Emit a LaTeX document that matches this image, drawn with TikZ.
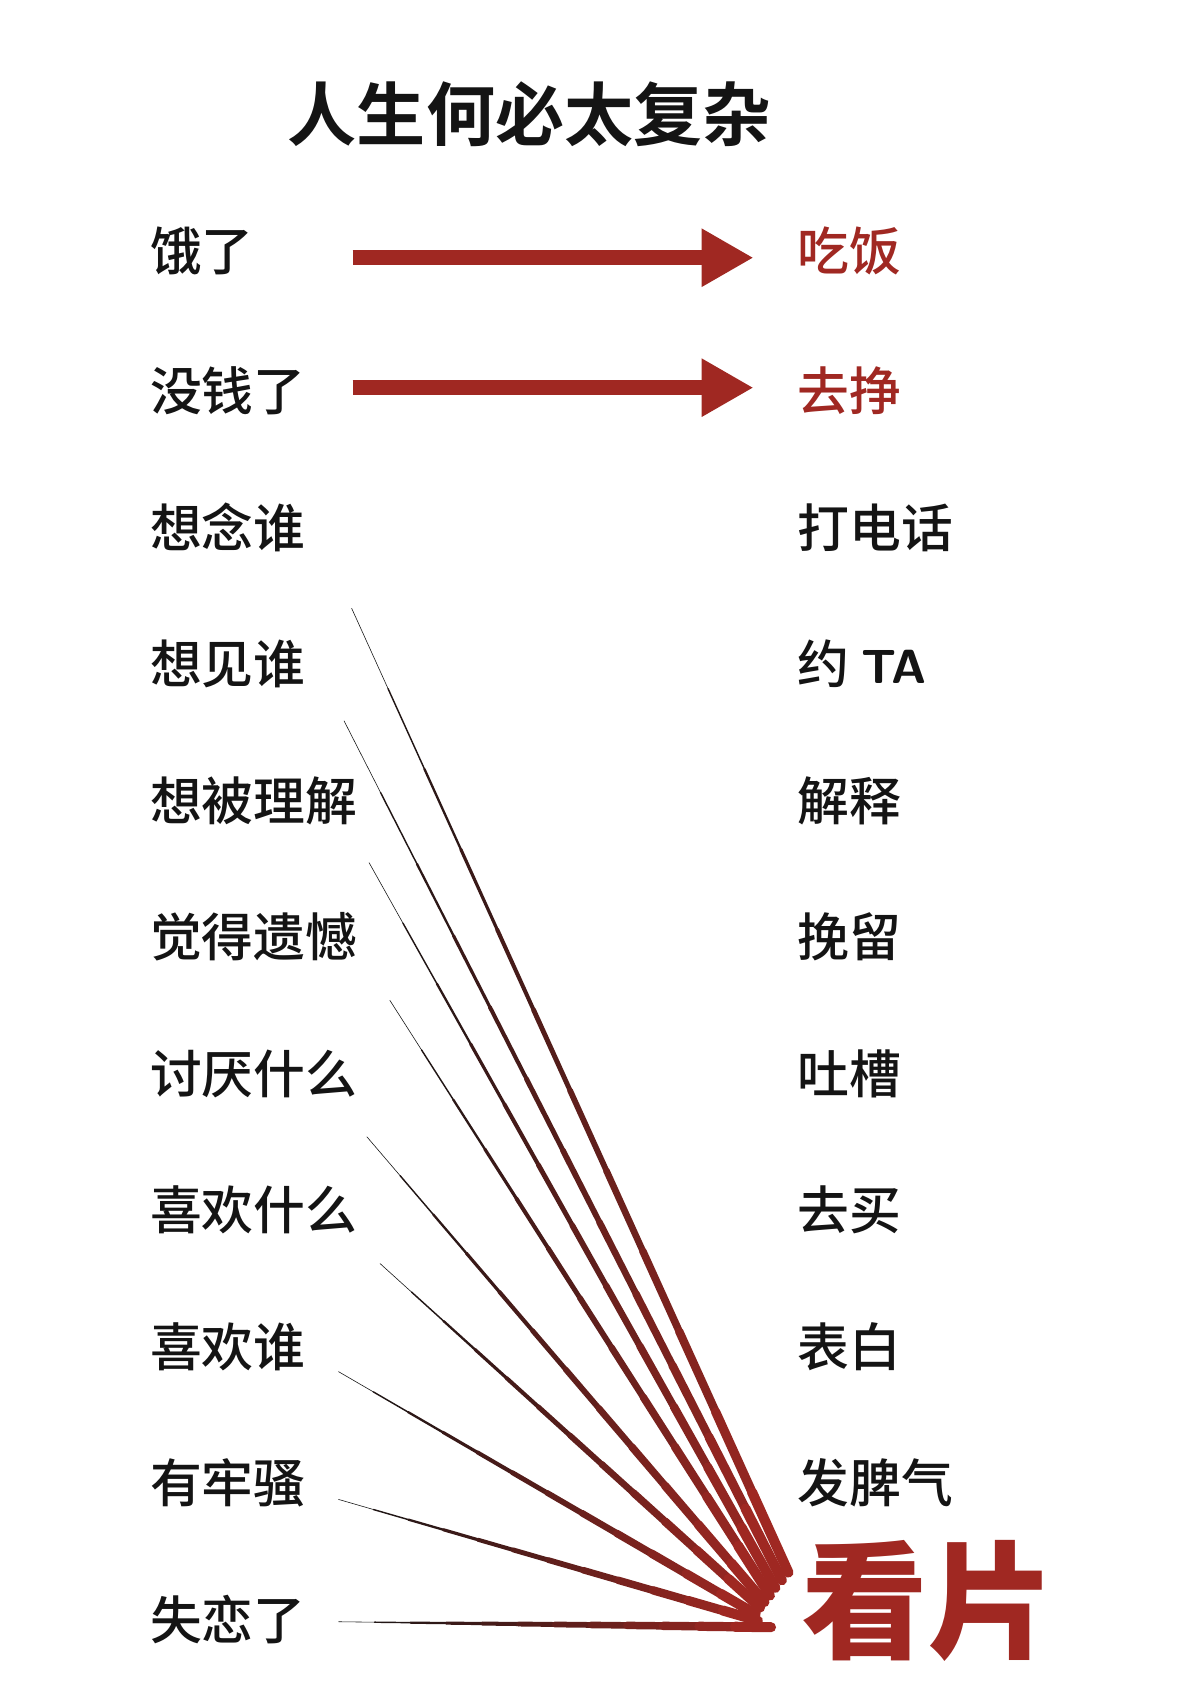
\documentclass[tikz,border=0pt]{standalone}
\usepackage{fontspec}
\usepackage{xcolor}
\usetikzlibrary{arrows.meta, calc, positioning}
\newfontfamily\cjk{Noto Sans CJK SC Medium}
\newfontfamily\cjkbold{Noto Sans CJK SC Bold}
\newfontfamily\cjkblack{Noto Sans CJK SC Black}
\definecolor{deepred}{RGB}{160,40,34}
\definecolor{darkink}{RGB}{20,20,20}

\tikzset{
    item/.style={anchor=west, inner sep=0pt, font=\cjk\fontsize{27}{29}\selectfont, text=darkink},
    hot/.style={item, text=deepred},
    fatarrow/.style={deepred, line width=0.28cm, -{Triangle[length=0.95cm, width=1.0cm]}}
}

\begin{document}
\begin{tikzpicture}[x=0.02cm, y=-0.02cm, >=Stealth]
    \useasboundingbox[fill=white] (0,0) rectangle (1080,1564);

    % Title
    \node[font=\cjkbold\fontsize{36}{38}\selectfont, text=darkink] (title) at (485,105) {人生何必太复杂};

    % Left column
    \node[item] (l1)  at (137,230)  {饿了};
    \node[item] (l2)  at (137,358)  {没钱了};
    \node[item] (l3)  at (137,483)  {想念谁};
    \node[item] (l4)  at (137,608)  {想见谁};
    \node[item] (l5)  at (137,733)  {想被理解};
    \node[item] (l6)  at (137,858)  {觉得遗憾};
    \node[item] (l7)  at (137,983)  {讨厌什么};
    \node[item] (l8)  at (137,1108) {喜欢什么};
    \node[item] (l9)  at (137,1233) {喜欢谁};
    \node[item] (l10) at (137,1358) {有牢骚};
    \node[item] (l11) at (137,1483) {失恋了};

    % Right column
    \node[hot]  (r1)  at (730,230)  {吃饭};
    \node[hot]  (r2)  at (730,358)  {去挣};
    \node[item] (r3)  at (730,483)  {打电话};
    \node[item] (r4)  at (730,608)  {约 {\sffamily\bfseries\fontsize{25}{27}\selectfont TA}};
    \node[item] (r5)  at (730,733)  {解释};
    \node[item] (r6)  at (730,858)  {挽留};
    \node[item] (r7)  at (730,983)  {吐槽};
    \node[item] (r8)  at (730,1108) {去买};
    \node[item] (r9)  at (730,1233) {表白};
    \node[item] (r10) at (730,1358) {发脾气};
    \node[anchor=west, inner sep=0pt, font=\cjkblack\fontsize{66}{68}\selectfont, text=deepred] (watch) at (734,1466) {看片};

    % Straight answers
    \coordinate (a1) at (323,236);
    \coordinate (b1) at (690,236);
    \coordinate (a2) at (323,355);
    \coordinate (b2) at (690,355);
    \draw[fatarrow] (a1) -- (b1);
    \draw[fatarrow] (a2) -- (b2);

    % Everything else ends in the same place
    \foreach \sx/\sy/\ex/\ey [count=\i] in {322/557/722/1440, 315/660/716/1447, 338/790/710/1454, 357/916/705/1461, 336/1041/700/1467, 348/1157/696/1472, 310/1256/692/1478, 310/1373/694/1484, 310/1485/706/1490}{
        \coordinate (s\i) at (\sx,\sy);
        \coordinate (e\i) at (\ex,\ey);
        \foreach \t in {0,...,11}{
            \pgfmathsetmacro{\mix}{100-\t*9}
            \pgfmathsetmacro{\lw}{0.3+\t*0.45}
            \draw[line width=\lw pt, line cap=round, color=darkink!\mix!deepred]
                ($(s\i)!{\t/12}!(e\i)$) -- ($(s\i)!{(\t+1)/12}!(e\i)$);
        }
    }
\end{tikzpicture}
\end{document}
